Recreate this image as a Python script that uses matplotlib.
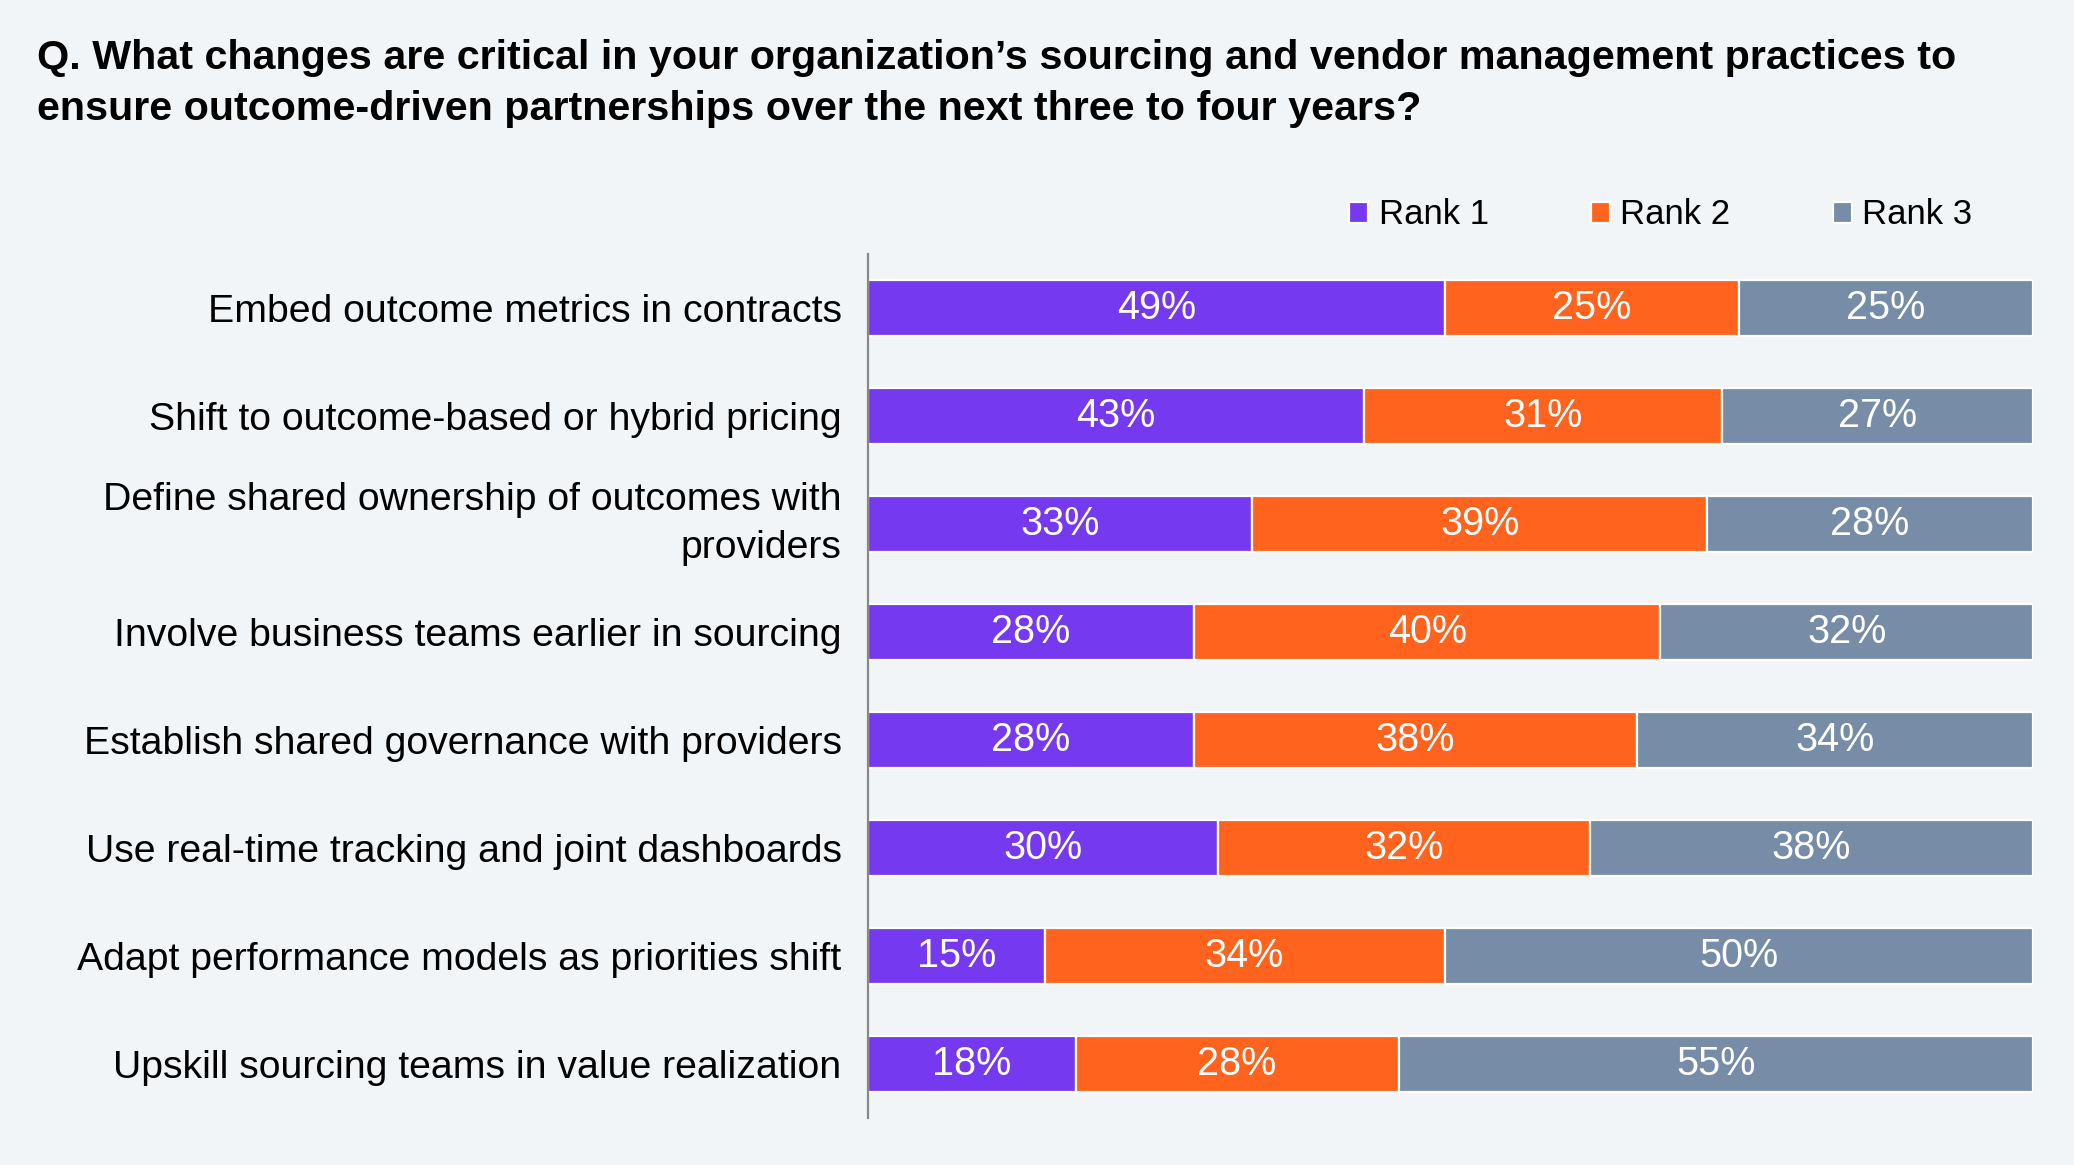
import matplotlib
matplotlib.use("Agg")
import matplotlib.pyplot as plt
import numpy as np

categories = [
    "Embed outcome metrics in contracts",
    "Shift to outcome-based or hybrid pricing",
    "Define shared ownership of outcomes with\nproviders",
    "Involve business teams earlier in sourcing",
    "Establish shared governance with providers",
    "Use real-time tracking and joint dashboards",
    "Adapt performance models as priorities shift",
    "Upskill sourcing teams in value realization",
]
rank1 = [49, 43, 33, 28, 28, 30, 15, 18]
rank2 = [25, 31, 39, 40, 38, 32, 34, 28]
rank3 = [25, 27, 28, 32, 34, 38, 50, 55]
series_names = ["Rank 1", "Rank 2", "Rank 3"]
colors = ["#7539F0", "#FF631D", "#778CA6"]
title = ("Q. What changes are critical in your organization\u2019s sourcing and vendor management practices to\n"
         "ensure outcome-driven partnerships over the next three to four years?")

bg = "#F2F5F8"
plt.rcParams['font.family'] = ['Liberation Sans', 'DejaVu Sans']

fig = plt.figure(figsize=(20.74, 11.65), dpi=100, facecolor=bg)
ax = fig.add_axes([868/2074, 1-1118/1165, (2033-868)/2074, (1118-254)/1165])
ax.set_facecolor(bg)

data = np.array([rank1, rank2, rank3], dtype=float)
totals = data.sum(axis=0)
shares = data / totals
y = np.arange(len(categories))
left = np.zeros(len(categories))
handles = []
for i, name in enumerate(series_names):
    bars = ax.barh(y, shares[i], left=left, height=0.51, color=colors[i],
                   edgecolor="white", linewidth=1.6, label=name)
    handles.append(bars)
    for j in range(len(categories)):
        ax.text(left[j] + shares[i][j] / 2, y[j], f"{int(data[i][j])}%",
                ha="center", va="center", color="white", fontsize=28.5)
    left = left + shares[i]

ax.set_xlim(0, 1)
ax.set_ylim(len(categories) - 0.5, -0.5)
ax.set_yticks(y)
ax.set_yticklabels(categories, fontsize=28.3, linespacing=1.46)
for lab in ax.get_yticklabels():
    if "\n" in lab.get_text():
        lab.set_va("center")
ax.tick_params(axis="y", length=0, pad=19)
ax.set_xticks([])
for s in ["top", "right", "bottom"]:
    ax.spines[s].set_visible(False)
ax.spines["left"].set_color("#888888")
ax.spines["left"].set_linewidth(1.6)

leg = fig.legend(handles=handles, labels=series_names, loc="center left",
                 bbox_to_anchor=(1318/2074, 1-215/1165), ncol=3, frameon=False,
                 fontsize=25, handlelength=0.55, handleheight=0.55,
                 handletextpad=0.3, columnspacing=2.94)

fig.text(37/2074, 1-39/1165, title, ha="left", va="top", fontsize=29.7,
         fontweight="bold", linespacing=1.43)

fig.savefig("out.png", dpi=100, facecolor=bg)
